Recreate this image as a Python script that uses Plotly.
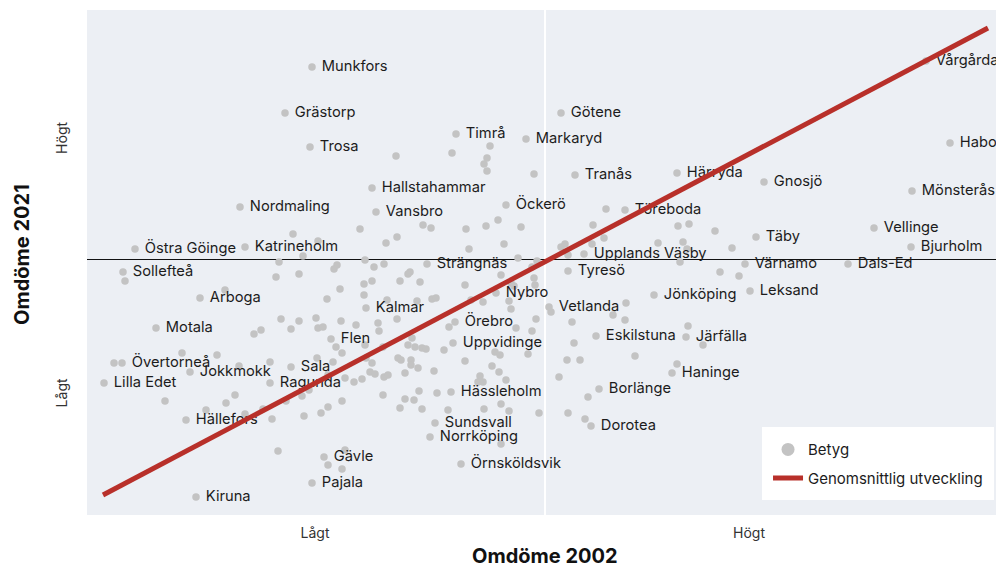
import plotly.graph_objects as go

# Labelled municipalities: name, score 2002 (x), score 2021 (y)
names = ["Munkfors", "Grästorp", "Trosa", "Götene", "Timrå", "Markaryd", "Tranås", "Härryda",
         "Vårgårda", "Habo", "Gnosjö", "Mönsterås", "Hallstahammar", "Nordmaling", "Vansbro",
         "Öckerö", "Töreboda", "Vellinge", "Täby", "Östra Göinge", "Katrineholm", "Bjurholm",
         "Upplands Väsby", "Strängnäs", "Värnamo", "Dals-Ed", "Sollefteå", "Tyresö", "Leksand",
         "Nybro", "Jönköping", "Arboga", "Vetlanda", "Kalmar", "Örebro", "Motala", "Eskilstuna",
         "Järfälla", "Flen", "Uppvidinge", "Övertorneå", "Sala", "Jokkmokk", "Haninge",
         "Lilla Edet", "Ragunda", "Borlänge", "Hässleholm", "Hällefors", "Sundsvall", "Dorotea",
         "Norrköping", "Gävle", "Örnsköldsvik", "Pajala", "Kiruna"]
lab_x = [-2.33, -2.60, -2.35, 0.16, -0.89, -0.19, 0.30, 1.32,
         3.81, 4.05, 2.19, 3.67, -1.73, -3.05, -1.69,
         -0.39, 0.80, 3.29, 2.11, -4.10, -3.00, 3.66,
         0.39, -1.18, 2.00, 3.03, -4.22, 0.23, 2.05,
         -0.49, 1.09, -3.45, 0.04, -1.79, -0.90, -3.89, 0.51,
         1.41, -2.14, -0.92, -4.23, -2.54, -3.55, 1.27,
         -4.41, -2.75, 0.54, -0.94, -3.59, -1.10, 0.46,
         -1.15, -2.21, -0.84, -2.33, -3.49]
lab_y = [1.92, 1.46, 1.12, 1.46, 1.25, 1.20, 0.84, 0.86,
         1.98, 1.16, 0.77, 0.68, 0.71, 0.52, 0.47,
         0.54, 0.49, 0.31, 0.22, 0.10, 0.12, 0.12,
         0.05, -0.05, -0.05, -0.05, -0.13, -0.12, -0.32,
         -0.34, -0.36, -0.39, -0.48, -0.49, -0.63, -0.69, -0.77,
         -0.78, -0.80, -0.84, -1.04, -1.08, -1.13, -1.14,
         -1.24, -1.24, -1.30, -1.33, -1.61, -1.64, -1.67,
         -1.78, -1.98, -2.05, -2.24, -2.38]

# Unlabelled municipalities
other_x = [-0.55, -1.49, -0.93, -0.58, -0.61, -0.58, -0.11,
           -1.85, -2.52, -2.27, -1.59, -2.42, -1.80, -2.66, -1.71, -1.61, -2.08, -2.11, -4.20,
           -2.69, -2.46, -1.81, -1.73, -3.20, -2.05, -2.18, -1.81, -2.64, -2.46, -2.29, -2.54,
           -2.27, -2.22, -2.04, -1.89, -1.67, -1.66, -2.84, -2.91,
           0.61, -1.22, -1.14, -0.79, -0.59, -0.47, -0.24, 0.48, 1.33, -1.48, -0.41, -0.76,
           0.16, 0.20, 0.47, 0.59, 0.23, 1.13, 1.38, -0.27, -0.08, -0.13, 1.35, -1.35, -1.37,
           -0.44, -1.25, -1.45, -0.80, -0.34, -0.31, -0.11, -0.10, -0.74, -0.62, -1.28, -1.13,
           -1.09, -0.36, 0.06, 0.81, -1.48, -0.96, -0.34, -0.09, -0.29, -0.13, 0.27, 0.68, 0.80,
           -1.33, -1.58,
           1.44, 1.70, 1.87, 1.42, 1.75, 1.94, 1.43, 1.58,
           -3.63, -3.28, -4.31, -3.06, -2.75, -2.28, -2.12, -2.09, -2.03, -1.80, -1.62, -2.17,
           -2.00, -1.91, -1.83, -1.79, -1.73, -1.75, -1.70, -1.61, -1.62, -3.80, -3.10, -3.19,
           -3.39, -3.00, -2.82, -2.59, -2.43, -2.36, -2.03, -2.17, -2.24, -2.41, -2.73, -2.67,
           -2.00, -2.17, -2.03,
           -1.37, -1.30, -1.23, -1.19, -1.01, -1.47, -1.44, -1.34, -1.34, -1.27, -1.57, -1.40,
           -1.11, -0.80, -0.50, -0.45, -0.17, -0.53, -0.46, -0.65, -0.67, -0.62, -0.39, 0.29,
           0.22, 0.35, 0.14, 0.90, 1.32, 0.43, -1.26, -1.08, -1.40, -1.31, -1.45, -1.23, -0.97,
           -0.61, -0.44, -0.36, -0.06, 0.23, 0.40, -0.44]
other_y = [1.13, 1.03, 1.06, 1.01, 0.95, 0.88, 0.85,
           0.30, 0.25, 0.18, 0.16, 0.03, -0.01, -0.03, -0.08, -0.05, -0.06, -0.10, -0.22,
           -0.18, -0.15, -0.25, -0.22, -0.31, -0.30, -0.40, -0.36, -0.60, -0.62, -0.59, -0.70,
           -0.69, -0.68, -0.62, -0.66, -0.64, -0.72, -0.71, -0.75,
           0.50, 0.34, 0.31, 0.30, 0.33, 0.39, 0.32, 0.34, 0.33, 0.22, 0.15, 0.10,
           0.12, 0.15, 0.15, 0.21, 0.04, 0.16, 0.17, 0.01, -0.02, -0.08, -0.03, -0.13, -0.15,
           -0.16, -0.23, -0.22, -0.26, -0.24, -0.27, -0.19, -0.26, -0.41, -0.43, -0.42, -0.40,
           -0.39, -0.42, -0.53, -0.44, -0.60, -0.68, -0.50, -0.60, -0.69, -0.72, -0.63, -0.56, -0.61,
           -0.79, -0.41,
           0.35, 0.28, 0.11, 0.10, -0.13, -0.17, -0.67, -0.86,
           -0.94, -0.96, -1.04, -1.07, -1.03, -0.99, -1.03, -0.88, -0.94, -0.86, -0.88, -1.16,
           -1.19, -1.23, -1.20, -0.99, -1.04, -1.13, -1.15, -1.18, -1.36, -1.42, -1.36, -1.44,
           -1.51, -1.55, -1.50, -1.42, -1.37, -1.31, -1.42, -1.48, -1.54, -1.57, -1.60, -1.92,
           -1.91, -2.06, -2.10,
           -0.86, -0.88, -0.89, -0.90, -0.91, -0.99, -1.01, -1.01, -1.06, -1.09, -1.16, -1.14,
           -1.12, -1.02, -0.93, -0.96, -0.95, -1.07, -1.13, -1.17, -1.23, -1.23, -1.21, -0.84,
           -1.01, -1.01, -1.18, -0.97, -1.05, -1.38, -1.32, -1.34, -1.40, -1.41, -1.49, -1.50, -1.51,
           -1.50, -1.45, -1.52, -1.54, -1.54, -1.60, -1.85]

# Average development (trend line end points)
trend_x = [-4.42, 4.43]
trend_y = [-2.36, 2.31]

x_tickvals = [-2.30, 2.04]
x_ticktext = ["Lågt", "Högt"]
y_tickvals = [-1.36, 1.19]
y_ticktext = ["Lågt", "Högt"]
x_title = "Omdöme 2002"
y_title = "Omdöme 2021"

FONT = "Inter, 'Noto Sans', sans-serif"
GREY = "#c3c3c3"
RED = "#b8302a"
NBSP = "\u00a0"

fig = go.Figure()
# legend-only entry for points
fig.add_trace(go.Scatter(x=[None], y=[None], mode="markers", name="Betyg",
                         marker=dict(color=GREY, size=13), legendgroup="a"))
fig.add_trace(go.Scatter(x=other_x, y=other_y, mode="markers", showlegend=False,
                         marker=dict(color=GREY, size=7.5), hoverinfo="skip"))
fig.add_trace(go.Scatter(x=lab_x, y=lab_y, mode="markers+text",
                         text=[NBSP + n for n in names],
                         textposition="middle right", showlegend=False,
                         textfont=dict(family=FONT, size=14.7, color="#1c1c1c"),
                         marker=dict(color=GREY, size=7.5)))
fig.add_trace(go.Scatter(x=trend_x, y=trend_y, mode="lines", name="Genomsnittlig utveckling",
                         line=dict(color=RED, width=5), legendgroup="b"))

fig.update_layout(
    width=996, height=567,
    margin=dict(l=87, r=0, t=10, b=52),
    paper_bgcolor="white", plot_bgcolor="#eceff4",
    font=dict(family=FONT, color="#1c1c1c"),
    legend=dict(x=0.7426, y=0.174, xanchor="left", yanchor="top", bgcolor="white",
                bordercolor="white", borderwidth=6,
                font=dict(family=FONT, size=15, color="#1c1c1c"),
                tracegroupgap=6, itemwidth=30),
    annotations=[
        dict(text="<b>" + x_title + "</b>", xref="paper", yref="paper", x=0.5044, y=0,
             xanchor="center", yanchor="middle", yshift=-41, showarrow=False,
             font=dict(family=FONT, size=20, color="#111")),
        dict(text="<b>" + y_title + "</b>", xref="paper", yref="paper", x=0, y=0.515,
             xanchor="center", yanchor="middle", xshift=-65, textangle=-90, showarrow=False,
             font=dict(family=FONT, size=20, color="#111")),
    ],
)
fig.update_xaxes(range=[-4.58, 4.51], showgrid=False, zeroline=True, zerolinecolor="white",
                 zerolinewidth=2, tickvals=x_tickvals, ticktext=x_ticktext, ticks="",
                 tickfont=dict(size=14, color="#333"), ticklabelstandoff=8)
fig.update_yaxes(range=[-2.56, 2.49], showgrid=False, zeroline=True, zerolinecolor="#111",
                 zerolinewidth=1.2, tickvals=y_tickvals, ticktext=y_ticktext, ticks="",
                 tickangle=-90, tickfont=dict(size=14, color="#333"), ticklabelstandoff=16)

fig.write_html("out.html", config={"displayModeBar": False},
               post_script="document.body.style.margin='0';"
                           "document.documentElement.style.overflow='hidden';"
                           "document.body.style.overflow='hidden';")
